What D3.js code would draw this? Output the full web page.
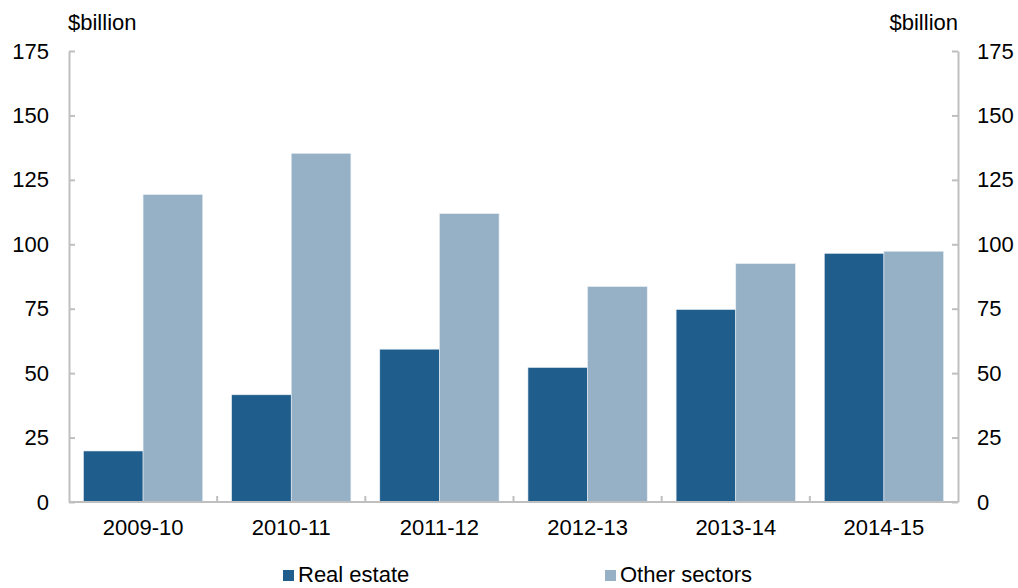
<!DOCTYPE html>
<html>
<head>
<meta charset="utf-8">
<script src="https://cdn.jsdelivr.net/npm/d3@7"></script>
<style>
  body { margin: 0; background: #fff; }
  text { font-family: "Liberation Sans", Arial, sans-serif; font-size: 22px; fill: #000; }
</style>
</head>
<body>
<div id="chart"></div>
<script>
var width = 1018, height = 588
var margin = {top: 51, left: 69, right: 60, bottom: 86}

// data
var years = ['2009-10', '2010-11', '2011-12', '2012-13', '2013-14', '2014-15']
var series = ['Real estate', 'Other sectors']
var realEstate = [19.8, 41.6, 59.3, 52.2, 74.7, 96.5]
var otherSectors = [119.3, 135.3, 111.9, 83.6, 92.5, 97.3]
var yTicks = [0, 25, 50, 75, 100, 125, 150, 175]
var colours = ['#1f5d8c', '#96b0c6']
var axisGrey = '#bfbfbf'

var rows = years.map(function(y, i){
    return {year: y, values: [realEstate[i], otherSectors[i]]}
})

var svg = d3.select('#chart').append('svg')
    .attr('width', width)
    .attr('height', height)

var x0 = d3.scaleBand()
    .domain(years)
    .range([margin.left, width - margin.right])
    .paddingInner(0.195)
    .paddingOuter(0.0975)

var x1 = d3.scaleBand()
    .domain(series)
    .range([0, x0.bandwidth()])

var y = d3.scaleLinear()
    .domain([0, 175])
    .range([height - margin.bottom, margin.top])

// bars
var groups = svg.selectAll('.group')
    .data(rows)
    .enter().append('g')
    .attr('class', 'group')
    .attr('transform', function(d){ return 'translate(' + x0(d.year) + ',0)' })

groups.selectAll('rect')
    .data(function(d){ return d.values.map(function(v, i){ return {s: series[i], v: v, i: i} }) })
    .enter().append('rect')
    .attr('x', function(d){ return x1(d.s) })
    .attr('width', x1.bandwidth())
    .attr('y', function(d){ return y(d.v) })
    .attr('height', function(d){ return y(0) - y(d.v) })
    .attr('fill', function(d){ return colours[d.i] })
    .attr('stroke', '#e8eef4')
    .attr('stroke-width', 0.6)

// left axis
var left = svg.append('g')
    .attr('transform', 'translate(' + margin.left + ',0)')
    .call(d3.axisLeft(y).tickValues(yTicks).tickSizeInner(-6).tickSizeOuter(0).tickPadding(20))
left.select('.domain').attr('stroke', axisGrey).attr('stroke-width', 2)
left.selectAll('.tick line').attr('stroke', axisGrey).attr('stroke-width', 2)
left.selectAll('.tick text').style('font-size', '22px').attr('fill', '#000')

// right axis
var right = svg.append('g')
    .attr('transform', 'translate(' + (width - margin.right) + ',0)')
    .call(d3.axisRight(y).tickValues(yTicks).tickSizeInner(-6).tickSizeOuter(0).tickPadding(19))
right.select('.domain').attr('stroke', axisGrey).attr('stroke-width', 2)
right.selectAll('.tick line').attr('stroke', axisGrey).attr('stroke-width', 2)
right.selectAll('.tick text').style('font-size', '22px').attr('fill', '#000')

// bottom axis
var base = y(0)
svg.append('line')
    .attr('x1', margin.left).attr('x2', width - margin.right)
    .attr('y1', base).attr('y2', base)
    .attr('stroke', axisGrey).attr('stroke-width', 2)

var half = x0.step() * x0.paddingInner() / 2
svg.selectAll('.xtick')
    .data(years.slice(1))
    .enter().append('line')
    .attr('class', 'xtick')
    .attr('x1', function(d){ return x0(d) - half })
    .attr('x2', function(d){ return x0(d) - half })
    .attr('y1', base).attr('y2', base - 6)
    .attr('stroke', axisGrey).attr('stroke-width', 2)

svg.selectAll('.xlabel')
    .data(years)
    .enter().append('text')
    .attr('class', 'xlabel')
    .attr('x', function(d){ return x0(d) + x0.bandwidth() / 2 })
    .attr('y', 535)
    .attr('text-anchor', 'middle')
    .text(function(d){ return d })

// unit labels
svg.append('text').attr('x', 68).attr('y', 30).text('$billion')
svg.append('text').attr('x', width - margin.right).attr('y', 30)
    .attr('text-anchor', 'end').text('$billion')

// legend
var legendX = [283, 605]
var legend = svg.selectAll('.legend')
    .data(series)
    .enter().append('g')
    .attr('class', 'legend')
    .attr('transform', function(d, i){ return 'translate(' + legendX[i] + ',570)' })
legend.append('rect')
    .attr('width', 11).attr('height', 11)
    .attr('fill', function(d, i){ return colours[i] })
legend.append('text')
    .attr('x', 15).attr('y', 12)
    .text(function(d){ return d })
</script>
</body>
</html>
